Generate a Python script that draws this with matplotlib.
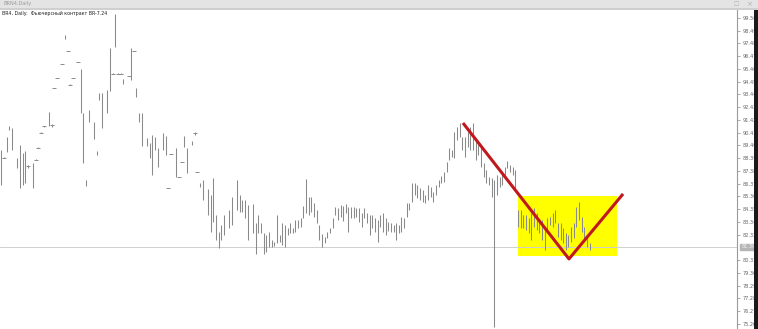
import matplotlib
matplotlib.use("Agg")
import matplotlib.pyplot as plt
from matplotlib.patches import Rectangle

# ---- data ----
days = [0, 1, 2, 3, 4, 6, 7, 8, 9, 10, 12, 13, 14, 15, 16, 18, 19, 20, 21, 23,
        24, 25, 26, 27, 29, 30, 31, 32, 33, 35, 36, 37, 38, 40, 41, 42, 43, 44, 45, 46,
        48, 49, 50, 51, 52, 53, 55, 56, 57, 58, 59, 61, 62, 63, 64, 66, 67, 68, 69, 70,
        72, 73, 74, 75, 76, 78, 79, 80, 81, 82, 83, 84, 86, 87, 89, 90, 91, 92, 93] + list(range(95, 223))

highs = [89.04, 88.45, 90.07, 90.94, 90.79, 88.41, 89.44, 88.81, 88.96, 87.85,
         88.01, 88.29, 89.24, 90.43, 90.98, 92.05, 91.10, 93.99, 94.78, 95.89,
         98.15, 96.92, 94.23, 94.78, 96.05, 95.46, 91.97, 86.67, 92.21, 91.26,
         88.96, 93.56, 93.56, 93.80, 97.12, 95.10, 99.82, 95.10, 95.10, 94.67,
         94.94, 97.12, 96.92, 93.96, 91.97, 91.97, 89.99, 89.60, 90.23, 90.07,
         89.20, 90.39, 90.15, 86.06, 88.76, 89.20, 86.93, 88.12, 90.15, 89.20,
         89.76, 90.47, 87.33, 86.43, 86.67, 85.95, 85.48, 86.83, 83.89, 82.55,
         83.10, 83.89, 84.29, 85.32, 86.67, 85.48, 85.08, 85.08, 84.69,
         # from day 95
         84.77, 83.26, 83.89, 83.26, 82.47, 82.31, 82.55, 81.91, 81.76, 83.89,
         82.31, 83.26, 83.10, 82.86, 83.26, 82.86, 83.50, 83.50, 83.66, 84.61,
         86.75, 85.32, 85.32, 84.84, 84.29, 83.10, 82.39, 82.15, 82.55, 82.86,
         83.66, 84.53, 84.45, 84.69, 84.61, 84.77, 84.53, 84.53, 84.53, 84.45,
         84.45, 84.05, 84.45, 84.05, 83.89, 83.89, 83.66, 83.50, 83.89, 84.05,
         83.66, 83.34, 83.26, 83.10, 83.26, 83.10, 83.74, 83.66, 84.84, 84.84,
         86.43, 86.43, 86.27, 86.03, 85.87, 85.48, 86.27, 86.11, 85.71, 86.27,
         86.67, 86.98, 87.30, 88.09, 89.20, 89.04, 90.47, 90.87, 91.18, 90.07,
         90.07, 90.47, 90.87, 91.18, 89.84, 89.60, 89.20, 88.01, 87.46, 86.90,
         86.83, 86.67, 87.06, 86.90, 87.30, 87.70, 88.17, 87.85, 87.70, 87.46,
         84.29, 84.29, 83.89, 83.89, 83.66, 84.05, 84.45, 84.05, 83.50, 83.50,
         82.71, 83.66, 83.74, 84.05, 84.29, 83.26, 83.26, 82.86, 82.47, 82.31,
         82.94, 83.26, 84.53, 84.92, 83.74, 82.94, 82.15, 81.68]

lows = [86.27, 88.38, 88.88, 90.63, 89.04, 87.62, 86.03, 86.27, 86.43, 87.62,
        86.03, 88.21, 89.16, 90.35, 90.90, 90.94, 90.87, 93.93, 94.72, 95.83,
        97.84, 96.86, 94.17, 94.72, 95.99, 91.97, 88.01, 86.19, 91.26, 89.91,
        88.65, 93.00, 90.79, 91.97, 93.72, 95.04, 97.20, 95.04, 95.04, 94.27,
        94.88, 94.59, 96.86, 93.24, 91.26, 89.36, 89.36, 88.41, 87.06, 89.04,
        87.70, 89.04, 88.65, 86.00, 88.70, 86.90, 86.87, 88.06, 89.28, 87.22,
        89.44, 90.23, 87.27, 86.11, 85.08, 83.89, 82.55, 83.34, 81.91, 81.28,
        81.91, 82.31, 82.86, 83.10, 84.29, 84.13, 84.13, 83.66, 81.91,
        # from day 95
        82.47, 80.80, 82.47, 82.47, 80.80, 80.96, 81.36, 81.36, 81.44, 81.68,
        81.76, 81.52, 81.36, 82.31, 82.47, 82.47, 82.55, 82.86, 82.94, 83.66,
        84.05, 83.89, 84.13, 83.74, 83.26, 81.91, 81.36, 81.68, 82.07, 82.47,
        82.86, 83.89, 83.50, 83.74, 83.42, 84.05, 82.55, 83.66, 83.66, 83.74,
        83.34, 82.94, 83.66, 83.26, 82.31, 82.86, 82.55, 81.76, 82.94, 82.55,
        82.31, 82.63, 82.55, 82.55, 81.91, 82.47, 82.55, 82.86, 83.74, 84.29,
        84.92, 85.48, 85.24, 85.08, 84.92, 84.84, 85.08, 85.32, 84.92, 85.48,
        86.11, 86.43, 86.51, 87.30, 88.25, 88.49, 88.41, 89.84, 90.07, 89.04,
        88.49, 89.28, 89.04, 89.04, 88.25, 88.65, 87.70, 86.90, 86.43, 86.27,
        85.32, 75.02, 85.48, 86.11, 86.27, 87.06, 87.62, 87.30, 87.06, 85.87,
        82.94, 82.86, 82.86, 82.71, 82.47, 81.91, 82.94, 82.71, 82.47, 81.91,
        81.12, 82.47, 83.10, 82.94, 83.26, 82.15, 81.91, 81.68, 81.12, 81.36,
        81.76, 82.07, 82.94, 83.50, 82.55, 81.91, 81.36, 81.12]

tick_values = [99.50, 98.49, 97.48, 96.47, 95.46, 94.45, 93.44, 92.43, 91.42, 90.41,
               89.40, 88.39, 87.38, 86.37, 85.36, 84.35, 83.34, 82.33, 80.31,
               79.30, 78.29, 77.28, 76.27, 75.26]
current_price = 81.36

trend_days = [174.2, 214.2, 234.6]
trend_prices = [91.18, 80.41, 85.56]
box_days = [195.0, 232.3]
box_prices = [80.65, 85.40]

title_bar = "BRN4,Daily"
chart_label = "BR4, Daily:  Фьючерсный контракт BR-7.24"

# ---- figure ----
W, H = 758, 329
fig = plt.figure(figsize=(W / 100, H / 100), dpi=100)
fig.patch.set_facecolor("white")

ax = fig.add_axes([0, 0, 737 / W, (H - 10) / H])
ax.set_xlim(-0.5, 277.6)
ax.set_ylim(74.86, 100.13)
ax.set_facecolor("white")
for s in ["top", "left", "bottom"]:
    ax.spines[s].set_visible(False)
ax.spines["right"].set_color("#9a9a9a")
ax.spines["right"].set_linewidth(0.8)
ax.xaxis.set_visible(False)
ax.yaxis.tick_right()
ax.set_yticks(tick_values)
ax.set_yticklabels([f"{v:.2f}" for v in tick_values])
ax.tick_params(axis="y", length=2.5, width=0.5, color="#888888",
               labelsize=3.6, labelcolor="#666666", pad=1.2)

# yellow box
ax.add_patch(Rectangle((box_days[0], box_prices[0]), box_days[1] - box_days[0],
                       box_prices[1] - box_prices[0], facecolor="#ffff00",
                       edgecolor="none", zorder=1))

# current price line
ax.axhline(current_price, color="#cfcfcf", lw=0.7, zorder=2)

# OHLC bars
ax.vlines(days, lows, highs, color="#8a8a8a", lw=0.75, zorder=3)
flat = [(d, (h + l) / 2) for d, h, l in zip(days, highs, lows) if h - l < 0.3]
ax.plot([f[0] for f in flat], [f[1] for f in flat], linestyle="none", marker="_",
        markersize=2.5, markeredgewidth=0.7, color="#8a8a8a", zorder=3)

# red annotation
ax.plot(trend_days, trend_prices, color="#c0181c", lw=2.2,
        solid_capstyle="butt", zorder=4)

# current price label box
ax.annotate(f"{current_price:.2f}", xy=(1.0, current_price),
            xycoords=("axes fraction", "data"), xytext=(3, 0),
            textcoords="offset points", va="center", ha="left",
            fontsize=3.6, color="#f4f4f4",
            bbox=dict(boxstyle="square,pad=0.15", fc="#b5b5b5", ec="#b5b5b5"))

# window title bar
fig.patches.append(Rectangle((0, (H - 8) / H), 1, 8 / H, transform=fig.transFigure,
                             facecolor="#e4e4e4", edgecolor="none"))
fig.patches.append(Rectangle((0, (H - 10) / H), 1, 2 / H, transform=fig.transFigure,
                             facecolor="#cfcfcf", edgecolor="none"))
fig.text(4 / W, (H - 4) / H, title_bar, fontsize=3.6, color="#9a9a9a", va="center")
fig.text(733 / W, (H - 4) / H, "□", fontsize=4, color="#b0b0b0", va="center")
fig.text(746 / W, (H - 4) / H, "×", fontsize=5, color="#b0b0b0", va="center")
fig.text(2 / W, (H - 13) / H, chart_label, fontsize=3.4, color="#202020", va="center")

# dark right edge
fig.patches.append(Rectangle((754 / W, 0), 4 / W, (H - 10) / H, transform=fig.transFigure,
                             facecolor="#1a1a1a", edgecolor="none"))

fig.savefig("out.png", dpi=100)
